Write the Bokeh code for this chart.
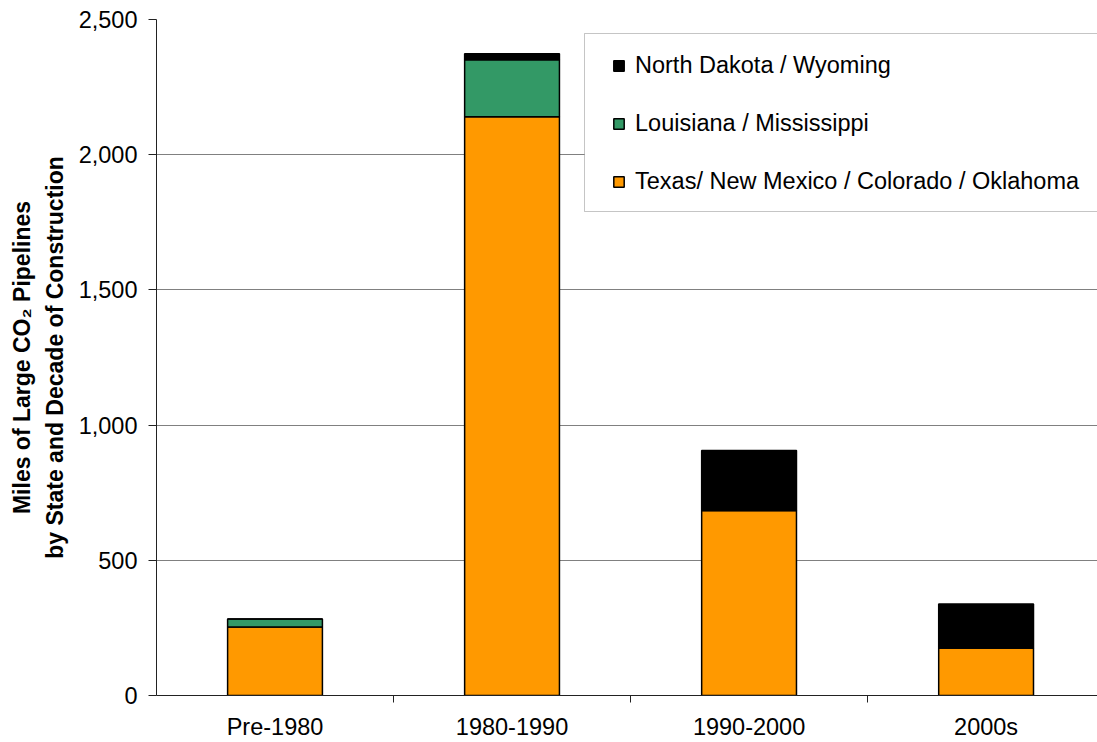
from bokeh.plotting import figure
from bokeh.models import (ColumnDataSource, Range1d, FixedTicker, NumeralTickFormatter,
                          Legend, LegendItem, BoxAnnotation)
from bokeh.embed import file_html
from bokeh.resources import INLINE

# ---- data ----
categories = ["Pre-1980", "1980-1990", "1990-2000", "2000s"]
series_names = ["Texas/ New Mexico / Colorado / Oklahoma",
                "Louisiana / Mississippi",
                "North Dakota / Wyoming"]
texas = [253, 2140, 684, 176]
louisiana = [30, 211, 0, 0]
north_dakota = [0, 22, 222, 162]
y_ticks = [0, 500, 1000, 1500, 2000, 2500]
colors = ["#FF9900", "#339966", "#000000"]

FONT = "Liberation Sans"
FS = "23.5px"

x_centers = [i + 0.5 for i in range(len(categories))]
x_bounds = [i for i in range(1, len(categories))]

source = ColumnDataSource(dict(x=x_centers, tx=texas, la=louisiana, nd=north_dakota))

p = figure(width=1097, height=742, output_backend="svg", toolbar_location=None,
           x_range=Range1d(0, 3.97), y_range=Range1d(0, 2500),
           min_border_left=156, min_border_right=0, min_border_top=19, min_border_bottom=47)
p.outline_line_color = None
p.background_fill_color = "white"
p.border_fill_color = "white"

renderers = p.vbar_stack(["tx", "la", "nd"], x="x", width=0.4, source=source,
                         fill_color=colors, line_color="black", line_width=1.5)

# y axis
p.yaxis.ticker = FixedTicker(ticks=y_ticks)
p.yaxis.formatter = NumeralTickFormatter(format="0,0")
p.yaxis.major_tick_out = 8
p.yaxis.major_tick_in = 0
p.yaxis.minor_tick_line_color = None
p.yaxis.major_label_standoff = 11
p.yaxis.major_label_text_font = FONT
p.yaxis.major_label_text_font_size = FS
p.yaxis.major_label_text_color = "black"
p.yaxis.axis_line_color = "#222222"
p.yaxis.major_tick_line_color = "#222222"
p.yaxis.axis_label = "Miles of Large CO\u2082 Pipelines\nby State and Decade of Construction"
p.yaxis.axis_label_text_font = FONT
p.yaxis.axis_label_text_font_style = "bold"
p.yaxis.axis_label_text_font_size = "23px"
p.yaxis.axis_label_text_color = "black"
p.yaxis.axis_label_standoff = 8
p.yaxis.axis_label_text_line_height = 1.25

# x axis
p.xaxis.ticker = FixedTicker(ticks=x_centers, minor_ticks=x_bounds)
p.xaxis.major_label_overrides = {c: lab for c, lab in zip(x_centers, categories)}
p.xaxis.major_tick_out = 0
p.xaxis.major_tick_in = 0
p.xaxis.minor_tick_out = 7
p.xaxis.minor_tick_in = 0
p.xaxis.minor_tick_line_color = "#222222"
p.xaxis.axis_line_color = "#222222"
p.xaxis.major_label_standoff = 11
p.xaxis.major_label_text_font = FONT
p.xaxis.major_label_text_font_size = FS
p.xaxis.major_label_text_color = "black"

p.xgrid.grid_line_color = None
p.ygrid.grid_line_color = "#808080"
p.ygrid.grid_line_width = 1

# legend frame
box = BoxAnnotation(left=428, right=1200, top=662, bottom=484,
                    left_units="screen", right_units="screen",
                    top_units="screen", bottom_units="screen",
                    fill_color="white", fill_alpha=1.0,
                    line_color="#404040", line_width=1, level="annotation")
p.add_layout(box)

items = [LegendItem(label=series_names[i], renderers=[renderers[i]]) for i in (2, 1, 0)]
legend = Legend(items=items, location=(456, 499), padding=0, margin=0,
                spacing=28, label_height=30, glyph_height=13, glyph_width=13,
                label_standoff=10, label_text_font=FONT, label_text_font_size=FS,
                label_text_color="black", border_line_color=None,
                background_fill_alpha=0)
p.add_layout(legend, "center")

open("out.html", "w").write(file_html(p, INLINE))
